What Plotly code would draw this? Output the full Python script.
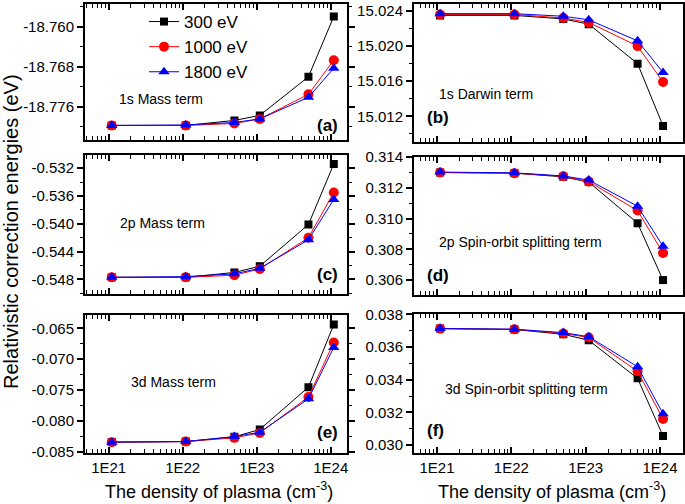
import plotly.graph_objects as go
from plotly.subplots import make_subplots

W, H = 685, 504

# plasma densities (cm^-3)
density = [1.1e21, 1.1e22, 5e22, 1.1e23, 5e23, 1.1e24]
energies = ["300 eV", "1000 eV", "1800 eV"]

# (a) 1s mass term
mass_1s = {
    "300 eV": [-18.7797, -18.7797, -18.7787, -18.7777, -18.7700, -18.7580],
    "1000 eV": [-18.7797, -18.7797, -18.7793, -18.7784, -18.7735, -18.7667],
    "1800 eV": [-18.7797, -18.7796, -18.7791, -18.7784, -18.7741, -18.7683],
}
# (b) 1s Darwin term
darwin_1s = {
    "300 eV": [15.0235, 15.0235, 15.0231, 15.0225, 15.0180, 15.0109],
    "1000 eV": [15.0236, 15.0236, 15.0232, 15.0227, 15.0200, 15.0159],
    "1800 eV": [15.0237, 15.0237, 15.0234, 15.0230, 15.0206, 15.0170],
}
# (c) 2p mass term
mass_2p = {
    "300 eV": [-0.5477, -0.5477, -0.5470, -0.5461, -0.5401, -0.5314],
    "1000 eV": [-0.5477, -0.5477, -0.5474, -0.5465, -0.5420, -0.5355],
    "1800 eV": [-0.5477, -0.5476, -0.5472, -0.5464, -0.5423, -0.5365],
}
# (d) 2p spin-orbit splitting term
so_2p = {
    "300 eV": [0.31299, 0.31295, 0.31271, 0.31237, 0.30970, 0.30600],
    "1000 eV": [0.31300, 0.31295, 0.31275, 0.31240, 0.31052, 0.30776],
    "1800 eV": [0.31302, 0.31297, 0.31277, 0.31250, 0.31080, 0.30820],
}
# (e) 3d mass term
mass_3d = {
    "300 eV": [-0.08339, -0.08330, -0.08253, -0.08135, -0.07452, -0.06441],
    "1000 eV": [-0.08340, -0.08330, -0.08270, -0.08190, -0.07610, -0.06730],
    "1800 eV": [-0.08340, -0.08330, -0.08250, -0.08180, -0.07640, -0.06810],
}
# (f) 3d spin-orbit splitting term
so_3d = {
    "300 eV": [0.03713, 0.03707, 0.03678, 0.03641, 0.03408, 0.03055],
    "1000 eV": [0.03712, 0.03708, 0.03683, 0.03658, 0.03452, 0.03159],
    "1800 eV": [0.03713, 0.03709, 0.03688, 0.03663, 0.03479, 0.03192],
}

x_tickvals = [1e21, 1e22, 1e23, 1e24]
x_ticktext = ["1E21", "1E22", "1E23", "1E24"]

yticks_a = [-18.776, -18.768, -18.760]
yticks_b = [15.012, 15.016, 15.020, 15.024]
yticks_c = [-0.548, -0.544, -0.540, -0.536, -0.532]
yticks_d = [0.306, 0.308, 0.310, 0.312, 0.314]
yticks_e = [-0.085, -0.080, -0.075, -0.070, -0.065]
yticks_f = [0.030, 0.032, 0.034, 0.036, 0.038]

term_labels = ["1s Mass term", "1s Darwin term", "2p Mass term",
               "2p Spin-orbit splitting term", "3d Mass term",
               "3d Spin-orbit splitting term"]
panel_labels = ["(a)", "(b)", "(c)", "(d)", "(e)", "(f)"]

FONT = "Liberation Sans, Arial, sans-serif"
styles = {
    "300 eV": dict(color="black", symbol="square", size=8),
    "1000 eV": dict(color="red", symbol="circle", size=10),
    "1800 eV": dict(color="blue", symbol="triangle-up", size=10),
}


def px(x):
    return x / W


def py(y):
    return 1 - y / H


panels = [
    (mass_1s, yticks_a, 0.004, [-18.7825, -18.7555]),
    (darwin_1s, yticks_b, 0.002, [15.0091, 15.0248]),
    (mass_2p, yticks_c, 0.002, [-0.5501, -0.5301]),
    (so_2p, yticks_d, 0.001, [0.30503, 0.31402]),
    (mass_3d, yticks_e, 0.0025, [-0.0851, -0.06286]),
    (so_3d, yticks_f, 0.001, [0.02953, 0.03802]),
]

x_dom = [[px(85), px(347)], [px(414), px(683)]]
y_dom = [[py(139.5), py(4)], [py(141.7), py(4)],
         [py(294), py(155)], [py(295), py(156.7)],
         [py(452.7), py(315)], [py(452.7), py(314)]]
x_range = [[20.68, 24.22], [20.69, 24.31]]

fig = make_subplots(rows=3, cols=2)

for i, (data, yt, minor_step, yr) in enumerate(panels):
    row, col = i // 2 + 1, i % 2 + 1
    for name in energies:
        st = styles[name]
        fig.add_trace(go.Scatter(
            x=density, y=data[name], name=name, mode="lines+markers",
            line=dict(color=st["color"], width=1),
            marker=dict(color=st["color"], symbol=st["symbol"], size=st["size"]),
            showlegend=(i == 0),
        ), row=row, col=col)

    fig.update_xaxes(
        type="log", range=x_range[col - 1], domain=x_dom[col - 1],
        automargin=False,
        tickmode="array", tickvals=x_tickvals, ticktext=x_ticktext,
        showticklabels=(row == 3),
        ticks="inside", ticklen=6, tickwidth=1.5, tickcolor="black",
        minor=dict(ticks="inside", ticklen=4, tickwidth=1, tickcolor="black",
                   dtick="D1", showgrid=False),
        showline=True, linewidth=2, linecolor="black", mirror="allticks",
        showgrid=False, zeroline=False,
        tickfont=dict(size=15, color="black"),
        row=row, col=col)
    fig.update_yaxes(
        range=yr, domain=y_dom[i], automargin=False,
        tickmode="array", tickvals=yt,
        ticktext=["{:.3f}".format(v) for v in yt],
        ticks="outside", ticklen=6, tickwidth=1.5, tickcolor="black",
        minor=dict(ticks="outside", ticklen=3, tickwidth=1, tickcolor="black",
                   tickmode="linear", tick0=yt[0], dtick=minor_step,
                   showgrid=False),
        showline=True, linewidth=2, linecolor="black", mirror="allticks",
        showgrid=False, zeroline=False,
        tickfont=dict(size=15, color="black"),
        row=row, col=col)

term_pos = [(161, 99), (486, 94), (162, 223), (520, 242), (174, 382), (526, 389)]
panel_pos = [(340, 125), (425, 117), (340, 274), (425, 275), (340, 432), (425, 430)]

annotations = []
for text, (x, y) in zip(term_labels, term_pos):
    annotations.append(dict(text=text, x=px(x), y=py(y), xref="paper", yref="paper",
                            xanchor="center", yanchor="middle", showarrow=False,
                            font=dict(size=14, color="black")))
for k, (text, (x, y)) in enumerate(zip(panel_labels, panel_pos)):
    annotations.append(dict(text="<b>%s</b>" % text, x=px(x), y=py(y),
                            xref="paper", yref="paper", showarrow=False,
                            xanchor="right" if k % 2 == 0 else "left",
                            yanchor="middle", font=dict(size=17, color="black")))
annotations.append(dict(text="Relativistic correction energies (eV)", textangle=-90,
                        x=px(11), y=py(232), xref="paper", yref="paper",
                        xanchor="center", yanchor="middle",
                        showarrow=False, font=dict(size=20, color="black")))
for xc in (219, 552):
    annotations.append(dict(text="The density of plasma (cm<sup>-3</sup>)",
                            x=px(xc), y=py(490), xref="paper", yref="paper",
                            xanchor="center", yanchor="middle",
                            showarrow=False, font=dict(size=18, color="black")))

fig.update_layout(
    width=W, height=H,
    margin=dict(l=0, r=0, t=0, b=0, autoexpand=False),
    paper_bgcolor="white", plot_bgcolor="white",
    font=dict(family=FONT, color="black"),
    annotations=annotations,
    legend=dict(x=px(144), y=py(4), xanchor="left", yanchor="top",
                bgcolor="rgba(0,0,0,0)", font=dict(size=17), tracegroupgap=0),
)

fig.write_html("out.html", config={"displayModeBar": False},
               post_script="document.body.style.margin='0';")
